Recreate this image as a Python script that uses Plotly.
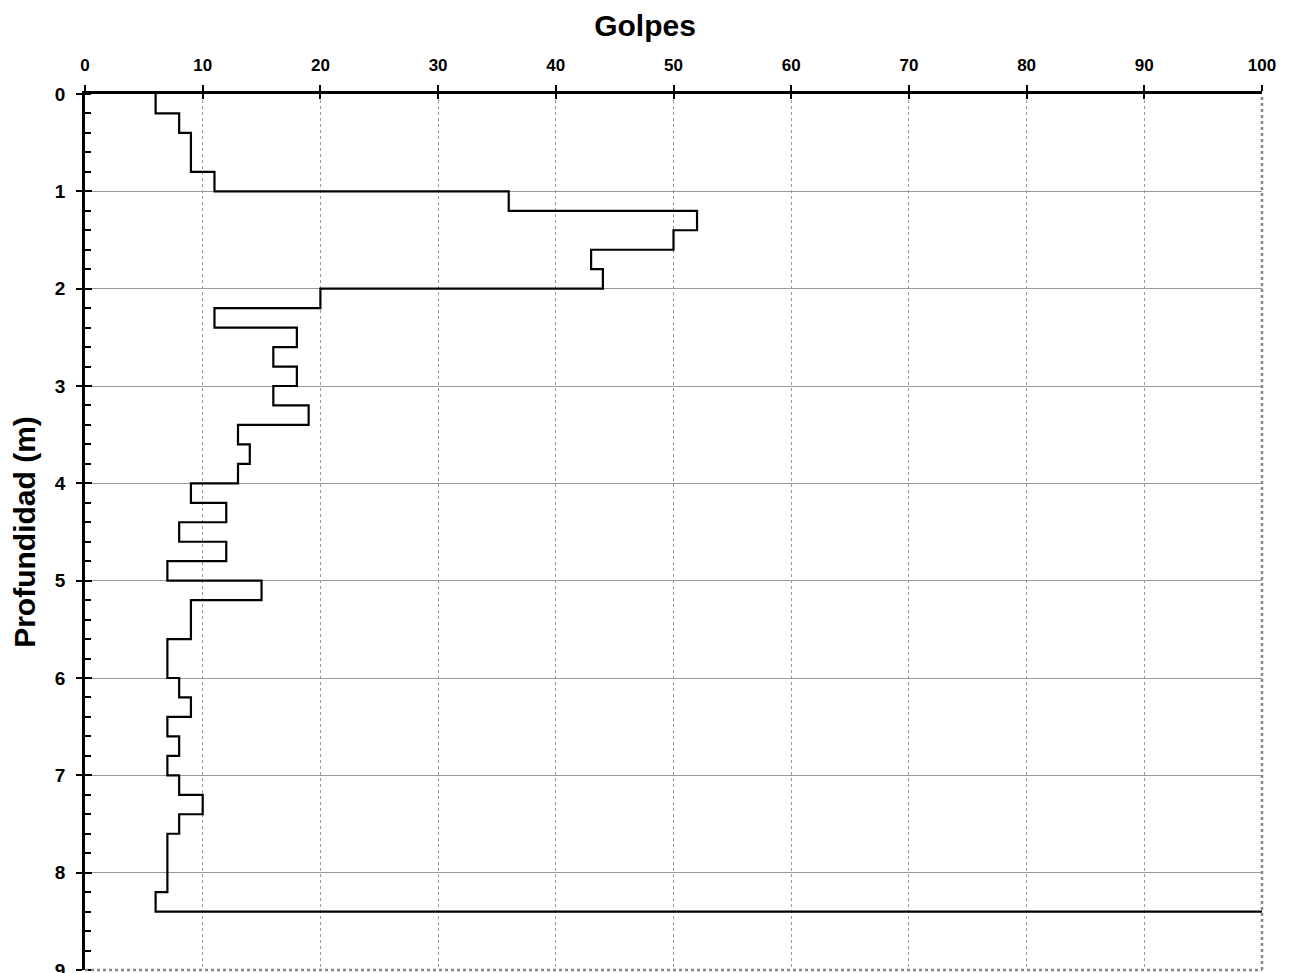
import plotly.graph_objects as go

depth_top = [0.0, 0.2, 0.4, 0.6, 0.8, 1.0, 1.2, 1.4, 1.6, 1.8, 2.0, 2.2, 2.4, 2.6, 2.8,
             3.0, 3.2, 3.4, 3.6, 3.8, 4.0, 4.2, 4.4, 4.6, 4.8, 5.0, 5.2, 5.4, 5.6, 5.8,
             6.0, 6.2, 6.4, 6.6, 6.8, 7.0, 7.2, 7.4, 7.6, 7.8, 8.0, 8.2]
golpes = [6, 8, 9, 9, 11, 36, 52, 50, 43, 44, 20, 11, 18, 16, 18,
          16, 19, 13, 14, 13, 9, 12, 8, 12, 7, 15, 9, 9, 7, 7,
          8, 9, 7, 8, 7, 8, 10, 8, 7, 7, 7, 6]
refusal_depth = 8.4
refusal_golpes = 100.5

x_ticks = [0, 10, 20, 30, 40, 50, 60, 70, 80, 90, 100]
y_ticks = [0, 1, 2, 3, 4, 5, 6, 7, 8, 9]

xs = golpes + [refusal_golpes]
ys = depth_top + [refusal_depth]

FONT = "Liberation Sans, Arial, sans-serif"

fig = go.Figure()
fig.add_trace(go.Scatter(x=xs, y=ys, mode="lines", line=dict(color="black", width=2.2, shape="vh"),
                         showlegend=False, hoverinfo="skip", cliponaxis=False))
# overlay trace for the crossing ticks
fig.add_trace(go.Scatter(x=[None], y=[None], xaxis="x2", yaxis="y2", showlegend=False))

fig.update_layout(
    width=1290, height=973,
    margin=dict(l=77, r=36, t=86, b=11),
    paper_bgcolor="white", plot_bgcolor="white",
    title=dict(text="Golpes", x=(645 - 8) / 1290, xref="container", xanchor="center",
               y=1 - 7 / 973, yref="container", yanchor="top",
               font=dict(family=FONT, size=30, color="black", weight="bold")),
    xaxis=dict(side="top", range=[0, 100], tickvals=x_ticks, ticktext=[str(v) for v in x_ticks],
               showline=True, linecolor="black", linewidth=2.5,
               ticks="outside", ticklen=6, tickwidth=2, tickcolor="black",
               ticklabelstandoff=7,
               showgrid=True, gridcolor="#999999", gridwidth=1, griddash="dot",
               tickfont=dict(family=FONT, size=17, color="black", weight="bold"),
               zeroline=False, fixedrange=True, automargin=False),
    yaxis=dict(range=[9, 0], tickvals=y_ticks, ticktext=[str(v) for v in y_ticks],
               showline=True, linecolor="black", linewidth=2.5,
               ticks="outside", ticklen=6, tickwidth=2, tickcolor="black",
               ticklabelstandoff=7,
               minor=dict(dtick=0.2, ticks="inside", ticklen=6, tickwidth=2, tickcolor="black", showgrid=False),
               showgrid=True, gridcolor="#999999", gridwidth=1,
               tickfont=dict(family=FONT, size=19, color="black", weight="bold"),
               title=dict(text="Profundidad (m)", standoff=12,
                          font=dict(family=FONT, size=30, color="black", weight="bold")),
               zeroline=False, fixedrange=True, automargin=False),
    xaxis2=dict(overlaying="x", side="top", range=[0, 100], tickvals=x_ticks, showticklabels=False,
                ticks="inside", ticklen=5, tickwidth=2, tickcolor="black", showgrid=False,
                showline=False, zeroline=False, fixedrange=True, automargin=False),
    yaxis2=dict(overlaying="y", side="left", range=[9, 0], tickvals=y_ticks, showticklabels=False,
                ticks="inside", ticklen=7, tickwidth=2, tickcolor="black", showgrid=False,
                showline=False, zeroline=False, fixedrange=True, automargin=False),
    shapes=[
        dict(type="line", xref="paper", yref="paper", x0=1, x1=1, y0=0, y1=1,
             line=dict(color="#888888", width=2.5, dash="dot")),
        dict(type="line", xref="paper", yref="paper", x0=0, x1=1, y0=0, y1=0,
             line=dict(color="#888888", width=2.5, dash="dot")),
    ],
)

fig.write_html("out.html")
